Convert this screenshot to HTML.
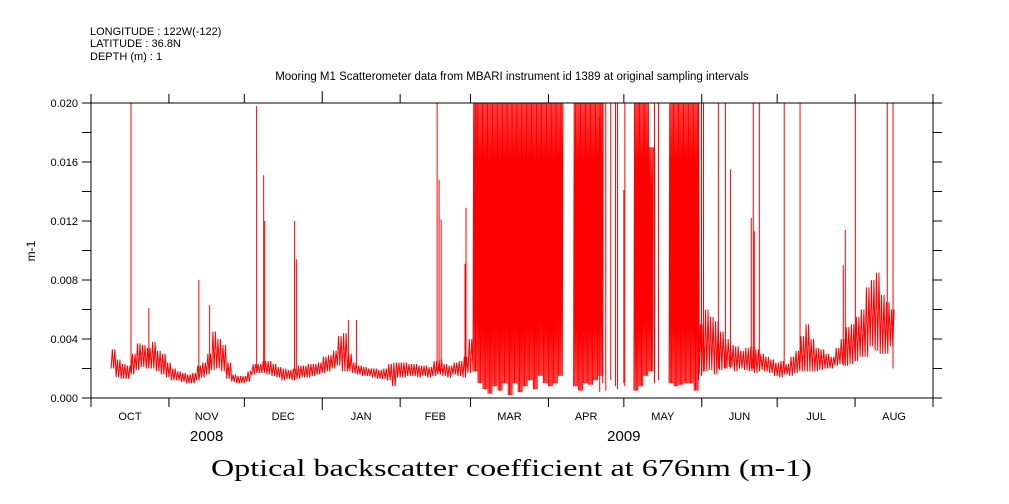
<!DOCTYPE html>
<html><head><meta charset="utf-8">
<style>
html,body{margin:0;padding:0;background:#fff;}
svg{display:block;font-family:"Liberation Sans",sans-serif;}
</style></head>
<body>
<svg id="chart" width="1009" height="504" viewBox="0 0 1009 504" xmlns="http://www.w3.org/2000/svg">
<text x="90" y="35" font-size="11">LONGITUDE : 122W(-122)</text>
<text x="90" y="47" font-size="11">LATITUDE : 36.8N</text>
<text x="90" y="60" font-size="11">DEPTH (m) : 1</text>
<text x="512" y="80" font-size="11.5" text-anchor="middle">Mooring M1 Scatterometer data from MBARI instrument id 1389 at original sampling intervals</text>
<text x="0" y="0" font-size="12" text-anchor="middle" transform="translate(35,251) rotate(-90)">m-1</text>
<text x="211" y="476" font-size="24" font-family="Liberation Serif, serif" textLength="601" lengthAdjust="spacingAndGlyphs">Optical backscatter coefficient at 676nm (m-1)</text>
<g id="series"></g>
<g id="axes"></g>
</svg>
<script>
// values in units of 0.001 m-1; 2-day bins starting at day 8 (day 0 = 1 Oct 2008)
const binStart = 8;
const binDays = 2;
const binLo = [
 2.0,1.4,1.3,1.3,1.6,1.9,2.1,2.0,2.0,1.8,
 1.6,1.4,1.2,1.2,1.1,1.0,1.0,1.2,1.4,1.6,
 1.9,2.0,1.8,1.3,1.1,1.0,1.0,1.1,1.6,1.7,
 1.7,1.6,1.5,1.4,1.2,1.3,1.2,1.3,1.4,1.4,
 1.5,1.6,1.7,1.8,2.0,2.2,1.8,1.8,1.7,1.6,
 1.5,1.5,1.4,1.3,1.3,1.2,0.8,1.4,1.4,1.5,
 1.5,1.4,1.5,1.4,1.5,1.6,1.5,1.4,1.6,1.5,
 1.4,1.7,1.8,1.0,0.6,0.3,0.8,0.5,1.0,0.2,
 1.0,0.4,0.8,1.2,0.6,1.5,1.0,0.8,1.0,1.5,
 null,null,0.8,0.5,1.0,0.9,1.2,1.5,null,null,
 null,null,null,null,0.5,0.8,1.5,1.8,null,null,
 null,1.0,0.8,0.9,1.0,1.0,0.5,1.6,1.8,1.9,
 1.6,1.9,2.0,2.1,1.8,2.0,1.9,1.8,1.7,1.9,
 1.8,1.7,1.5,1.4,1.6,1.5,1.7,1.8,1.8,1.8,
 1.8,1.9,2.0,2.0,2.2,2.3,2.2,2.3,2.5,2.8,
 2.8,3.5,3.2,3.0,3.0,3.5];
const binHi = [
 3.3,2.6,2.3,2.2,3.0,3.7,3.6,3.4,3.8,3.2,
 3.0,2.4,2.0,1.8,1.7,1.6,1.7,2.2,2.4,3.0,
 4.5,4.0,3.6,2.4,1.6,1.5,1.5,1.8,2.3,2.3,
 2.5,2.5,2.3,2.1,2.0,1.9,2.0,2.2,2.2,2.3,
 2.3,2.4,2.8,2.9,3.2,4.2,4.4,3.0,2.4,2.2,
 2.1,2.0,2.0,1.9,2.0,2.3,2.4,2.4,2.4,2.3,
 2.3,2.2,2.2,2.1,2.5,2.6,2.3,2.2,2.4,2.5,
 2.8,4.0,20,20,20,20,20,20,20,20,
 20,20,20,20,20,20,20,20,20,20,
 null,null,20,20,20,20,20,20,null,null,
 null,null,null,null,20,20,20,17,null,null,
 null,20,20,20,20,20,20,5.0,6.0,5.5,
 5.2,4.5,4.0,3.6,3.5,3.2,3.4,3.5,3.3,3.0,
 2.8,2.6,2.4,2.5,2.3,2.8,3.2,4.2,5.0,4.0,
 3.4,3.3,3.0,2.8,3.4,4.0,4.8,5.0,5.5,6.0,
 7.5,8.0,8.5,7.0,6.5,6.0];
// isolated spikes
const spikeDays = [15.9,23,42.9,47.2,65.9,68.7,69.1,81,81.7,102.4,105.6,137.7,138.5,139.3,148.8,149.2,153,
  202.4,203.6,204.8,206.8,208.7,209.5,212,212.4,224.2,225.8,241.7,242.9,243.7,249.6,252.4,254.4,262.7,263.5,263.9,265.9,275.8,282.1,299.3,300.1,304.1,316.8,319.1];
const spikeHi = [20,6.1,8.0,6.3,19.8,15.1,12.0,12.0,9.4,5.3,5.3,20,14.8,12.1,9.1,12.9,20,
  19,20,20,20,20,20,14.1,20,20,20,20,20,20,20,20,15.5,12.2,20,11.3,20,20,20,9.0,11.4,20,20,20,16.4];
const spikeLo = [2.0,2.5,1.8,2.0,2.0,2.0,2.0,1.8,1.8,2.0,2.0,1.8,1.8,1.8,2.0,2.0,2.0,
  0.4,1.0,0.5,1.2,0.8,0.6,1.0,0.8,1.0,1.2,1.2,1.5,1.8,2.0,2.0,2.0,2.0,2.0,2.0,1.8,1.8,2.0,2.2,2.2,2.5,4.0,2.0];
const yTicks = ["0.000","0.004","0.008","0.012","0.016","0.020"];
const months = ["OCT","NOV","DEC","JAN","FEB","MAR","APR","MAY","JUN","JUL","AUG"];
const monthStarts = [0,31,61,92,123,151,182,212,243,273,304,335];
const years = ["2008","2009"];

const X0=91,X1=933,Y0=398,Y1=103,DAYS=335,VMAX=20;
const xs=d=>X0+d*(X1-X0)/DAYS;
const ys=v=>Y0-v*(Y0-Y1)/VMAX;
const NS="http://www.w3.org/2000/svg";
const ser=document.getElementById('series'), ax=document.getElementById('axes');
function mk(t,a,p){const e=document.createElementNS(NS,t);for(const k in a)e.setAttribute(k,a[k]);p.appendChild(e);return e;}

let seg=[];
function flush(){ if(seg.length>1){ const pl=mk('polyline',{points:seg.join(' '),fill:'none',stroke:'#ff0000','stroke-width':1},ser);

 } seg=[]; }
for(let i=0;i<binLo.length;i++){
  if(binLo[i]===null){flush();continue;}
  const d=binStart+i*binDays;
  const n=(binHi[i]>=15)?8:4;
  for(let k=0;k<n;k++){
    const dd=d+k*binDays/n;
    const v=(k%2===0)?binLo[i]:binHi[i];
    seg.push(xs(dd).toFixed(2)+','+ys(v).toFixed(1));
  }
}
flush();
for(let i=0;i<spikeDays.length;i++){
  const l=mk('line',{x1:xs(spikeDays[i]),x2:xs(spikeDays[i]),y1:ys(spikeLo[i]),y2:ys(spikeHi[i]),stroke:'#ff0000','stroke-width':1},ser);
  
  
}

const fr=mk('rect',{x:X0,y:Y1,width:X1-X0,height:Y0-Y1,fill:'none',stroke:'#000','stroke-width':1},ax);


for(let v=0;v<=20;v+=2){
  const y=ys(v);
  const t1=mk('line',{x1:X0-9,x2:X0,y1:y,y2:y,stroke:'#000'},ax);
  
  
  const t2=mk('line',{x1:X1,x2:X1+9,y1:y,y2:y,stroke:'#000'},ax);
  
  
}
yTicks.forEach((s,i)=>{
  const t=mk('text',{x:X0-13,y:ys(i*4)+4,'font-size':11,'text-anchor':'end'},ax);
  t.textContent=s;
  
  
});
monthStarts.forEach((d,i)=>{
  const x=xs(d); const big=(d===92);
  const a=mk('line',{x1:x,x2:x,y1:Y0,y2:Y0+(big?12:9),stroke:'#000'},ax);
  
  
  const b=mk('line',{x1:x,x2:x,y1:Y1,y2:Y1-(big?12:9),stroke:'#000'},ax);
  
  
});
months.forEach((m,i)=>{
  const t=mk('text',{x:xs((monthStarts[i]+monthStarts[i+1])/2),y:420,'font-size':11,'text-anchor':'middle'},ax);
  t.textContent=m;
  
  
});
[[years[0],46],[years[1],212]].forEach(([y,d])=>{
  const t=mk('text',{x:xs(d),y:441,'font-size':15,'text-anchor':'middle'},ax);
  t.textContent=y;
  
  
});
</script>
</body></html>
